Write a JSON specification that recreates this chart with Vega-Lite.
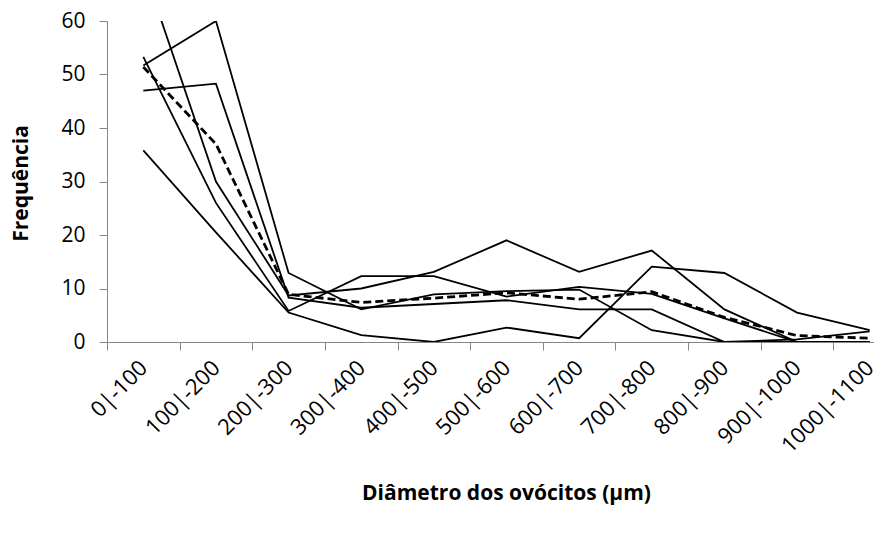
{
  "$schema": "https://vega.github.io/schema/vega-lite/v6.json",
  "width": 767,
  "height": 321,
  "autosize": {"type": "none"},
  "padding": {"left": 107, "top": 21, "right": 0, "bottom": 191},
  "background": "white",
  "config": {"view": {"stroke": null}, "font": "Open Sans"},
  "data": {
    "values": [
      {"classe": "0|-100", "serie": "A", "freq": 53.3},
      {"classe": "100|-200", "serie": "A", "freq": 26},
      {"classe": "200|-300", "serie": "A", "freq": 5.8},
      {"classe": "300|-400", "serie": "A", "freq": 12.3},
      {"classe": "400|-500", "serie": "A", "freq": 12.3},
      {"classe": "500|-600", "serie": "A", "freq": 8.5},
      {"classe": "600|-700", "serie": "A", "freq": 10.3},
      {"classe": "700|-800", "serie": "A", "freq": 9},
      {"classe": "800|-900", "serie": "A", "freq": 4.4},
      {"classe": "900|-1000", "serie": "A", "freq": 0},
      {"classe": "1000|-1100", "serie": "A", "freq": 0},

      {"classe": "0|-100", "serie": "B", "freq": 51.7},
      {"classe": "100|-200", "serie": "B", "freq": 60},
      {"classe": "200|-300", "serie": "B", "freq": 12.9},
      {"classe": "300|-400", "serie": "B", "freq": 6.1},
      {"classe": "400|-500", "serie": "B", "freq": 8.9},
      {"classe": "500|-600", "serie": "B", "freq": 9.5},
      {"classe": "600|-700", "serie": "B", "freq": 9.8},
      {"classe": "700|-800", "serie": "B", "freq": 2.2},
      {"classe": "800|-900", "serie": "B", "freq": 0},
      {"classe": "900|-1000", "serie": "B", "freq": 0},
      {"classe": "1000|-1100", "serie": "B", "freq": 0},

      {"classe": "0|-100", "serie": "C", "freq": 70},
      {"classe": "100|-200", "serie": "C", "freq": 30},
      {"classe": "200|-300", "serie": "C", "freq": 8.7},
      {"classe": "300|-400", "serie": "C", "freq": 10},
      {"classe": "400|-500", "serie": "C", "freq": 13.1},
      {"classe": "500|-600", "serie": "C", "freq": 19},
      {"classe": "600|-700", "serie": "C", "freq": 13.1},
      {"classe": "700|-800", "serie": "C", "freq": 17.1},
      {"classe": "800|-900", "serie": "C", "freq": 6.1},
      {"classe": "900|-1000", "serie": "C", "freq": 0},
      {"classe": "1000|-1100", "serie": "C", "freq": 0},

      {"classe": "0|-100", "serie": "D", "freq": 47},
      {"classe": "100|-200", "serie": "D", "freq": 48.3},
      {"classe": "200|-300", "serie": "D", "freq": 8.3},
      {"classe": "300|-400", "serie": "D", "freq": 6.4},
      {"classe": "400|-500", "serie": "D", "freq": 7.1},
      {"classe": "500|-600", "serie": "D", "freq": 7.8},
      {"classe": "600|-700", "serie": "D", "freq": 6.1},
      {"classe": "700|-800", "serie": "D", "freq": 6.1},
      {"classe": "800|-900", "serie": "D", "freq": 0},
      {"classe": "900|-1000", "serie": "D", "freq": 0.5},
      {"classe": "1000|-1100", "serie": "D", "freq": 2},

      {"classe": "0|-100", "serie": "E", "freq": 35.8},
      {"classe": "100|-200", "serie": "E", "freq": 20.5},
      {"classe": "200|-300", "serie": "E", "freq": 5.5},
      {"classe": "300|-400", "serie": "E", "freq": 1.3},
      {"classe": "400|-500", "serie": "E", "freq": 0},
      {"classe": "500|-600", "serie": "E", "freq": 2.7},
      {"classe": "600|-700", "serie": "E", "freq": 0.7},
      {"classe": "700|-800", "serie": "E", "freq": 14.1},
      {"classe": "800|-900", "serie": "E", "freq": 12.9},
      {"classe": "900|-1000", "serie": "E", "freq": 5.5},
      {"classe": "1000|-1100", "serie": "E", "freq": 2.2},

      {"classe": "0|-100", "serie": "média", "freq": 51.4},
      {"classe": "100|-200", "serie": "média", "freq": 37},
      {"classe": "200|-300", "serie": "média", "freq": 8.9},
      {"classe": "300|-400", "serie": "média", "freq": 7.4},
      {"classe": "400|-500", "serie": "média", "freq": 8.2},
      {"classe": "500|-600", "serie": "média", "freq": 9.2},
      {"classe": "600|-700", "serie": "média", "freq": 8.0},
      {"classe": "700|-800", "serie": "média", "freq": 9.4},
      {"classe": "800|-900", "serie": "média", "freq": 4.6},
      {"classe": "900|-1000", "serie": "média", "freq": 1.2},
      {"classe": "1000|-1100", "serie": "média", "freq": 0.7}
    ]
  },
  "encoding": {
    "x": {
      "field": "classe",
      "type": "ordinal",
      "sort": ["0|-100", "100|-200", "200|-300", "300|-400", "400|-500", "500|-600", "600|-700", "700|-800", "800|-900", "900|-1000", "1000|-1100"],
      "scale": {"type": "band", "range": [0, 799], "paddingInner": 0, "paddingOuter": 0},
      "axis": {
        "title": "Diâmetro dos ovócitos (µm)",
        "grid": false,
        "tickBand": "extent",
        "domainColor": "#868686",
        "tickColor": "#868686",
        "tickSize": 8,
        "labelAngle": -45,
        "labelAlign": "right",
        "labelBaseline": "middle",
        "labelPadding": 14,
        "labelFontSize": 22,
        "labelColor": "black",
        "titleFontSize": 21,
        "titleFontWeight": "bold",
        "titleColor": "black",
        "titleX": 399,
        "titleY": 151,
        "titleBaseline": "middle",
        "titleAlign": "center"
      }
    },
    "y": {
      "field": "freq",
      "type": "quantitative",
      "scale": {"domain": [0, 60], "nice": false},
      "axis": {
        "title": "Frequência",
        "grid": false,
        "values": [0, 10, 20, 30, 40, 50, 60],
        "domainColor": "#868686",
        "tickColor": "#868686",
        "tickSize": 8,
        "labelPadding": 14,
        "labelFontSize": 21,
        "labelColor": "black",
        "titleFontSize": 21,
        "titleFontWeight": "bold",
        "titleColor": "black",
        "titleX": -86,
        "titleY": 162,
        "titleAngle": -90,
        "titleBaseline": "middle",
        "titleAlign": "center"
      }
    }
  },
  "layer": [
    {
      "transform": [{"filter": "datum.serie != 'média'"}],
      "mark": {"type": "line", "color": "black", "strokeWidth": 1.8, "clip": true},
      "encoding": {"detail": {"field": "serie"}}
    },
    {
      "transform": [{"filter": "datum.serie == 'média'"}],
      "mark": {"type": "line", "color": "black", "strokeWidth": 2.8, "strokeDash": [8, 4], "clip": true}
    }
  ]
}
